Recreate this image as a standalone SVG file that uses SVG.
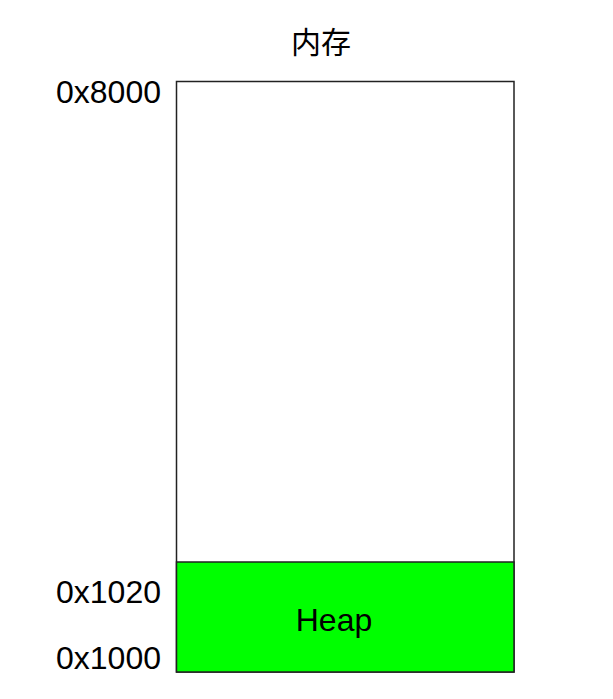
<svg xmlns="http://www.w3.org/2000/svg" width="613" height="699" viewBox="0 0 613 699">
<style>
.lbl{font-family:"Liberation Sans",Arial,sans-serif;font-size:32px;fill:#000}
.box{stroke:#222;stroke-width:1.5}
</style>
<rect width="613" height="699" fill="#fff"/>
<g id="title"><text x="321" y="53" text-anchor="middle" style="font-family:'Liberation Sans','Noto Sans CJK SC',sans-serif;font-size:30px">内存</text></g>
<g id="memory"><rect class="box" x="176.5" y="81.5" width="337.5" height="590.5" fill="#fff"/></g>
<g id="heap"><rect class="box" x="176.5" y="562" width="337.5" height="110" fill="#00ff00"/>
<text class="lbl" x="334" y="631" text-anchor="middle">Heap</text></g>
<g id="addr8000"><text class="lbl" x="161" y="103" text-anchor="end">0x8000</text></g>
<g id="addr1020"><text class="lbl" x="161" y="603" text-anchor="end">0x1020</text></g>
<g id="addr1000"><text class="lbl" x="161" y="669" text-anchor="end">0x1000</text></g>
<g id="connectors"/>
</svg>
